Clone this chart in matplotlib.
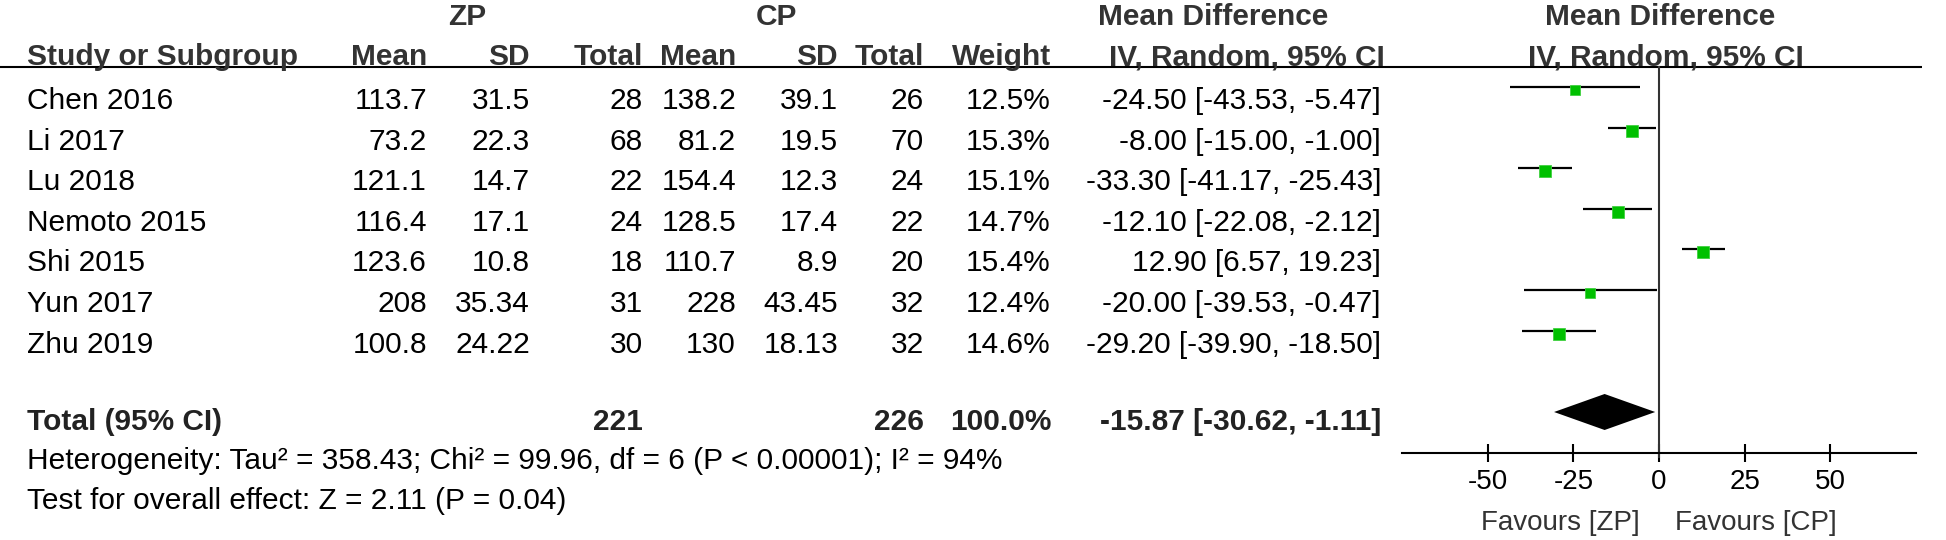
import numpy as np
import matplotlib
matplotlib.use("Agg")
import matplotlib.pyplot as plt

plt.rcParams['font.family'] = ['Liberation Sans', 'DejaVu Sans']

# данные исследований
studies = ["Chen 2016", "Li 2017", "Lu 2018", "Nemoto 2015", "Shi 2015", "Yun 2017", "Zhu 2019"]
zp_mean = [113.7, 73.2, 121.1, 116.4, 123.6, 208, 100.8]
zp_sd = [31.5, 22.3, 14.7, 17.1, 10.8, 35.34, 24.22]
zp_n = [28, 68, 22, 24, 18, 31, 30]
cp_mean = [138.2, 81.2, 154.4, 128.5, 110.7, 228, 130]
cp_sd = [39.1, 19.5, 12.3, 17.4, 8.9, 43.45, 18.13]
cp_n = [26, 70, 24, 22, 20, 32, 32]
weight = [12.5, 15.3, 15.1, 14.7, 15.4, 12.4, 14.6]
md = [-24.50, -8.00, -33.30, -12.10, 12.90, -20.00, -29.20]
ci_lo = [-43.53, -15.00, -41.17, -22.08, 6.57, -39.53, -39.90]
ci_hi = [-5.47, -1.00, -25.43, -2.12, 19.23, -0.47, -18.50]

# итог
total_zp_n = 221
total_cp_n = 226
total_weight = 100.0
total_md = -15.87
total_lo = -30.62
total_hi = -1.11
heterogeneity = "Heterogeneity: Tau² = 358.43; Chi² = 99.96, df = 6 (P < 0.00001); I² = 94%"
overall = "Test for overall effect: Z = 2.11 (P = 0.04)"
ticks = [-50, -25, 0, 25, 50]
fav_left = "Favours [ZP]"
fav_right = "Favours [CP]"

W, H = 1946, 540
fig = plt.figure(figsize=(W / 100, H / 100), dpi=100)
ax = fig.add_axes([0, 0, 1, 1])
ax.set_xlim(0, W)
ax.set_ylim(H, 0)
ax.axis('off')

fs = 21.5
hdr = dict(fontsize=fs, fontweight='bold', color='#333333')
txt = dict(fontsize=fs, color='black')

# заголовки таблицы
ax.text(467, 25, "ZP", ha='center', va='baseline', **hdr)
ax.text(776, 25, "CP", ha='center', va='baseline', **hdr)
ax.text(1213, 25, "Mean Difference", ha='center', va='baseline', **hdr)
ax.text(1660, 25, "Mean Difference", ha='center', va='baseline', **hdr)
ax.text(27, 65, "Study or Subgroup", ha='left', va='baseline', **hdr)
col_x = [427, 530, 643, 736, 838, 924, 1051]
col_names = ["Mean", "SD", "Total", "Mean", "SD", "Total", "Weight"]
for x, name in zip(col_x, col_names):
    ax.text(x, 65, name, ha='right', va='baseline', **hdr)
ax.text(1247, 65, "IV, Random, 95% CI", ha='center', va='baseline', **hdr)
ax.text(1666, 65, "IV, Random, 95% CI", ha='center', va='baseline', **hdr)
ax.plot([0, 1922], [67, 67], color='black', lw=1.5, solid_capstyle='butt')

row_y = 87 + 40.6 * np.arange(len(studies))
text_off = 22
ci_x = 1381
for i, s in enumerate(studies):
    y = row_y[i] + text_off
    ax.text(27, y, s, ha='left', va='baseline', **txt)
    vals = [zp_mean[i], zp_sd[i], zp_n[i], cp_mean[i], cp_sd[i], cp_n[i], f"{weight[i]:.1f}%"]
    for x, v in zip(col_x, vals):
        ax.text(x, y, str(v), ha='right', va='baseline', **txt)
    ax.text(ci_x, y, f"{md[i]:.2f} [{ci_lo[i]:.2f}, {ci_hi[i]:.2f}]", ha='right', va='baseline', **txt)

tot_y = 412
tb = dict(fontsize=fs, fontweight='bold', color='#222222')
ax.text(27, 430, "Total (95% CI)", ha='left', va='baseline', **tb)
ax.text(col_x[2], 430, str(total_zp_n), ha='right', va='baseline', **tb)
ax.text(col_x[5], 430, str(total_cp_n), ha='right', va='baseline', **tb)
ax.text(col_x[6], 430, f"{total_weight:.1f}%", ha='right', va='baseline', **tb)
ax.text(ci_x, 430, f"{total_md:.2f} [{total_lo:.2f}, {total_hi:.2f}]", ha='right', va='baseline', **tb)
ax.text(27, 469, heterogeneity, ha='left', va='baseline', **txt)
ax.text(27, 509, overall, ha='left', va='baseline', **txt)

ax.text(1640, 530, fav_left, ha='right', va='baseline', fontsize=20, color='#333333')
ax.text(1675, 530, fav_right, ha='left', va='baseline', fontsize=20, color='#333333')

# график
y_top, y_bot = 67, 453
fax = fig.add_axes([1402 / W, (H - y_bot) / H, (1916 - 1402) / W, (y_bot - y_top) / H])
fax.set_xlim(-75, 75)
fax.set_ylim(y_bot, y_top)
fax.patch.set_alpha(0)
for sp in ['top', 'left', 'right']:
    fax.spines[sp].set_visible(False)
fax.spines['bottom'].set_linewidth(1.5)
fax.set_yticks([])
fax.set_xticks(ticks)
fax.set_xticklabels([str(t) for t in ticks], fontsize=20)
fax.tick_params(axis='x', direction='inout', length=13.5, width=1.5, pad=5)

fax.plot([0, 0], [y_top, y_bot + 4], color='#333333', lw=1.5, clip_on=False)
for i in range(len(studies)):
    fax.plot([ci_lo[i], ci_hi[i]], [row_y[i], row_y[i]], color='black', lw=1.6, solid_capstyle='butt')
    side = 3.0 * np.sqrt(weight[i]) * 0.72
    fax.plot(md[i], row_y[i] + 3, marker='s', ms=side, color='#00c000',
             markeredgecolor='#40d040', markeredgewidth=0.6)

dh = 18
fax.fill([total_lo, total_md, total_hi, total_md],
         [tot_y, tot_y - dh, tot_y, tot_y + dh], color='black', lw=0)

plt.savefig("out.png", dpi=100)
